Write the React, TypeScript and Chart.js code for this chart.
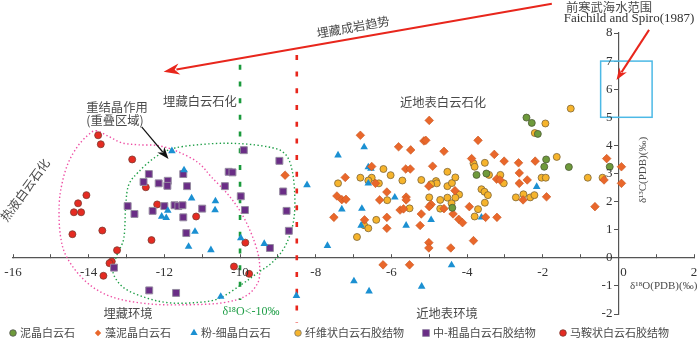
import { useEffect, useRef } from 'react';
import { Chart, registerables } from 'chart.js';

Chart.register(...registerables);

// ---------- data (δ18O, δ13C) ----------
const micrite: [number, number][] = [
  [-2.43, 4.99], [-2.29, 4.8], [-2.13, 4.41], [-1.91, 3.5], [-1.96, 3.24], [-1.31, 3.23],
  [-3.75, 2.95], [-3.49, 3.0], [-0.23, 3.24], [-4.39, 1.78],
];

const algalMicrite: [number, number][] = [
  [-8.81, 2.94], [-6.82, 4.36], [-5.81, 3.95], [-5.49, 3.84], [-5.14, 4.16], [-5.09, 4.18],
  [-6.52, 3.25], [-5.62, 3.16], [-5.5, 3.16], [-7.22, 2.86], [-6.42, 2.65], [-6.12, 2.34],
  [-7.44, 2.2], [-7.31, 2.07], [-7.2, 2.08], [-5.61, 2.16], [-5.61, 2.06], [-6.31, 2.06],
  [-7.52, 1.44], [-6.71, 1.35], [-6.12, 1.44], [-5.77, 1.7], [-5.68, 1.74], [-6.12, 1.05],
  [-5.24, 1.15], [-6.22, -0.25], [-5.52, -0.25], [-5.0, 4.89], [-3.71, 4.18], [-4.61, 3.79],
  [-3.28, 3.68], [-3.88, 3.53], [-3.02, 3.44], [-2.64, 3.38], [-2.2, 3.44], [-4.91, 3.26],
  [-3.22, 2.8], [-3.13, 2.77], [-2.62, 3.02], [-2.41, 2.77], [-2.62, 2.65], [-0.38, 2.77],
  [-0.31, 3.53], [0.08, 3.24], [0.08, 2.65], [-0.62, 1.82], [-1.9, 2.17], [-2.52, 2.06],
  [-5.01, 2.55], [-4.32, 2.39], [-4.95, 1.9], [-5.0, 1.82], [-4.61, 1.75], [-5.21, 1.56],
  [-4.37, 1.56], [-4.22, 1.37], [-4.12, 1.25], [-5.01, 0.54], [-5.01, 0.35], [-4.43, 0.35],
  [-3.83, 0.61], [-3.94, 1.82], [-3.51, 1.44], [-3.21, 1.44],
];

const fineCrystal: [number, number][] = [
  [-11.8, 3.8], [-11.48, 3.12], [-11.28, 2.12], [-10.65, 2.02], [-10.66, 1.7], [-11.91, 1.68],
  [-12.07, 1.47], [-11.95, 1.42], [-11.19, 0.93], [-11.36, 0.4], [-10.77, 0.28], [-9.98, 0.7],
  [-9.36, 0.5], [-8.23, 2.59], [-7.41, 3.65], [-7.69, 0.43], [-7.31, 1.73], [-6.72, 3.94],
  [-6.61, 3.23], [-6.54, 3.18], [-6.61, 2.65], [-5.91, 2.15], [-6.78, 1.75], [-6.8, 1.15],
  [-5.61, 1.15], [-4.95, 1.35], [-3.62, 1.44], [-2.16, 2.53], [-4.41, -0.26], [-6.99, -0.83],
  [-6.59, -1.19], [-10.51, -1.38], [-8.51, -1.35], [-5.2, -1.02],
];

const fibrousCement: [number, number][] = [
  [-6.21, 3.16], [-6.82, 2.85], [-6.52, 2.85], [-6.61, 2.75], [-6.02, 2.94], [-5.71, 2.75],
  [-7.41, 2.65], [-6.33, 2.65], [-6.11, 2.05], [-5.52, 1.76], [-6.4, 1.35], [-6.72, 1.16],
  [-6.61, 1.05], [-6.91, 0.74], [-1.93, 4.78], [-2.21, 4.44], [-1.26, 5.31], [-1.63, 3.59],
  [-3.53, 3.38], [-3.83, 3.36], [-3.8, 3.24], [-4.52, 3.06], [-3.42, 2.95], [-3.12, 2.95],
  [-3.03, 2.65], [-2.03, 2.85], [-1.92, 2.85], [-0.81, 2.85], [-0.42, 2.85], [-2.71, 2.15],
  [-2.51, 2.26], [-2.33, 2.15], [-2.22, 2.23], [-5.21, 2.77], [-4.82, 2.73], [-4.8, 2.65],
  [-4.95, 2.62], [-4.52, 2.55], [-4.4, 2.66], [-4.31, 2.86], [-4.21, 2.25], [-4.31, 2.14],
  [-4.52, 2.14], [-5.0, 2.15], [-4.71, 2.06], [-4.41, 1.94], [-4.71, 1.75], [-3.71, 1.73],
  [-3.8, 1.47], [-3.62, 2.44], [-3.54, 2.35], [-3.45, 2.23], [-3.53, 1.96],
];

const coarseCement: [number, number][] = [
  [-9.9, 3.83], [-8.96, 3.45], [-12.41, 2.98], [-12.55, 2.7], [-12.15, 2.65], [-11.91, 2.74],
  [-11.92, 2.56], [-11.5, 2.98], [-11.4, 2.55], [-10.3, 3.06], [-10.2, 3.04], [-10.4, 2.55],
  [-9.98, 2.19], [-9.87, 1.7], [-8.86, 2.36], [-8.77, 1.67], [-8.71, 0.96], [-9.21, 0.35],
  [-12.97, 1.84], [-12.79, 1.56], [-12.31, 1.67], [-12.0, 1.84], [-11.73, 1.87], [-11.63, 1.84],
  [-11.52, 1.87], [-11.0, 1.75], [-11.5, 1.44], [-11.42, 0.88], [-13.33, -0.35], [-12.4, -1.16],
  [-11.69, -1.25],
];

const saddleCement: [number, number][] = [
  [-13.75, 4.36], [-13.68, 4.04], [-12.85, 3.5], [-14.06, 2.23], [-14.28, 1.94], [-14.39, 1.62],
  [-14.2, 1.62], [-14.43, 0.84], [-13.64, 0.97], [-12.49, 2.51], [-12.19, 1.9], [-11.16, 1.47],
  [-12.34, 0.63], [-13.25, 0.27], [-13.39, -0.13], [-13.45, -0.19], [-13.61, -0.64], [-9.86, 0.54],
  [-10.16, -0.31], [-9.76, -0.57],
];

const seriesNames = [
  '泥晶白云石', '藻泥晶白云石', '粉-细晶白云石', '纤维状白云石胶结物', '中-粗晶白云石胶结物', '马鞍状白云石胶结物',
];

const xTickValues = [-16, -14, -12, -10, -8, -6, -4, -2, 0, 2];
const xTickLabels = ['-16', '-14', '-12', '-10', '-8', '-6', '-4', '-2', '0', '2'];
const yTickValues = [-2, -1, 0, 1, 2, 3, 4, 5, 6, 7, 8];
const yTickLabels = ['-2', '-1', '0', '1', '2', '3', '4', '5', '6', '7', '8'];

// annotation outlines in data units
const hydrothermalOutline: [number, number][] = [
  [-13.81, 4.52], [-13.46, 4.31], [-13.12, 4.09], [-12.68, 4.02], [-12.15, 3.99], [-11.63, 3.77],
  [-11.1, 3.38], [-10.76, 2.88], [-10.31, 2.24], [-9.97, 1.6], [-9.71, 0.89], [-9.53, 0.18],
  [-9.48, -0.36], [-9.53, -0.89], [-9.84, -1.35], [-10.45, -1.6], [-11.36, -1.67], [-12.41, -1.64],
  [-13.39, -1.39], [-14.07, -0.85], [-14.57, 0.0], [-14.75, 0.82], [-14.78, 1.89], [-14.7, 2.67],
  [-14.54, 3.38], [-14.3, 3.95], [-14.04, 4.34],
];
const burialOutline: [number, number][] = [
  [-13.02, 1.89], [-12.94, 2.6], [-12.68, 3.06], [-12.23, 3.59], [-11.71, 3.91], [-10.76, 4.06],
  [-9.97, 4.06], [-9.27, 3.95], [-8.87, 3.77], [-8.66, 3.31], [-8.56, 2.42], [-8.58, 1.35],
  [-8.79, 0.46], [-9.13, -0.14], [-9.53, -0.53], [-9.97, -0.96], [-10.58, -1.46], [-11.23, -1.6],
  [-11.89, -1.6], [-12.49, -1.42], [-13.07, -1.07], [-13.36, -0.5], [-13.25, 0.11], [-13.07, 0.71],
];

const COLORS = {
  green: '#6e9a3b',
  orange: '#e9672b',
  blue: '#1b90d2',
  yellow: '#f6b42c',
  purple: '#6a2d86',
  red: '#e52b22',
};

const CJK = '"Noto Sans CJK SC", sans-serif';
const SERIF = '"Liberation Serif", "DejaVu Serif", serif';
const TEXT_COLOR = '#4a4a4a';

function closedSpline(ctx: CanvasRenderingContext2D, pts: number[][]) {
  const n = pts.length;
  ctx.beginPath();
  ctx.moveTo(pts[0][0], pts[0][1]);
  for (let i = 0; i < n; i++) {
    const p0 = pts[(i - 1 + n) % n];
    const p1 = pts[i];
    const p2 = pts[(i + 1) % n];
    const p3 = pts[(i + 2) % n];
    ctx.bezierCurveTo(
      p1[0] + (p2[0] - p0[0]) / 6, p1[1] + (p2[1] - p0[1]) / 6,
      p2[0] - (p3[0] - p1[0]) / 6, p2[1] - (p3[1] - p1[1]) / 6,
      p2[0], p2[1],
    );
  }
  ctx.closePath();
  ctx.stroke();
}

function arrow(ctx: CanvasRenderingContext2D, x1: number, y1: number, x2: number, y2: number,
  color: string, lw: number, headLen: number, headW: number) {
  const ang = Math.atan2(y2 - y1, x2 - x1);
  const bx = x2 - Math.cos(ang) * headLen;
  const by = y2 - Math.sin(ang) * headLen;
  ctx.save();
  ctx.strokeStyle = color;
  ctx.fillStyle = color;
  ctx.lineWidth = lw;
  ctx.setLineDash([]);
  ctx.beginPath();
  ctx.moveTo(x1, y1);
  ctx.lineTo(bx + Math.cos(ang) * 2, by + Math.sin(ang) * 2);
  ctx.stroke();
  const nx = -Math.sin(ang);
  const ny = Math.cos(ang);
  const ix = x2 - Math.cos(ang) * headLen * 0.75;
  const iy = y2 - Math.sin(ang) * headLen * 0.75;
  ctx.beginPath();
  ctx.moveTo(x2, y2);
  ctx.lineTo(bx + nx * headW / 2 - Math.cos(ang) * 1, by + ny * headW / 2 - Math.sin(ang) * 1);
  ctx.lineTo(ix, iy);
  ctx.lineTo(bx - nx * headW / 2 - Math.cos(ang) * 1, by - ny * headW / 2 - Math.sin(ang) * 1);
  ctx.closePath();
  ctx.fill();
  ctx.restore();
}

function text(ctx: CanvasRenderingContext2D, s: string, x: number, y: number, font: string,
  color: string, align: CanvasTextAlign = 'center', rot = 0) {
  ctx.save();
  ctx.font = font;
  ctx.fillStyle = color;
  ctx.textAlign = align;
  ctx.textBaseline = 'middle';
  ctx.translate(x, y);
  if (rot) ctx.rotate((rot * Math.PI) / 180);
  ctx.fillText(s, 0, 0);
  ctx.restore();
}

function marker(ctx: CanvasRenderingContext2D, kind: string, x: number, y: number, r: number,
  fill: string, stroke: string | null) {
  ctx.save();
  ctx.beginPath();
  if (kind === 'circle') {
    ctx.arc(x, y, r, 0, Math.PI * 2);
  } else if (kind === 'diamond') {
    ctx.moveTo(x, y - r); ctx.lineTo(x + r, y); ctx.lineTo(x, y + r); ctx.lineTo(x - r, y);
    ctx.closePath();
  } else if (kind === 'triangle') {
    ctx.moveTo(x, y - r); ctx.lineTo(x + r * 0.866, y + r * 0.5); ctx.lineTo(x - r * 0.866, y + r * 0.5);
    ctx.closePath();
  } else {
    ctx.rect(x - r, y - r, 2 * r, 2 * r);
  }
  ctx.fillStyle = fill;
  ctx.fill();
  if (stroke) { ctx.strokeStyle = stroke; ctx.lineWidth = 0.8; ctx.stroke(); }
  ctx.restore();
}

const underlayPlugin = {
  id: 'underlay',
  beforeDatasetsDraw(chart: any) {
    const ctx: CanvasRenderingContext2D = chart.ctx;
    const xs = chart.scales.x;
    const ys = chart.scales.y;
    const P = (p: number[]) => [xs.getPixelForValue(p[0]), ys.getPixelForValue(p[1])];
    ctx.save();
    // dotted outlines
    ctx.lineWidth = 1.4;
    ctx.setLineDash([1.4, 2.4]);
    ctx.strokeStyle = '#ee4fa4';
    closedSpline(ctx, hydrothermalOutline.map(P));
    ctx.strokeStyle = '#1f9e47';
    closedSpline(ctx, burialOutline.map(P));
    // vertical dashed boundaries
    ctx.lineWidth = 2.6;
    ctx.setLineDash([5, 11.7]);
    ctx.strokeStyle = '#1a9a3c';
    ctx.beginPath();
    ctx.moveTo(xs.getPixelForValue(-10), ys.getPixelForValue(6.87));
    ctx.lineTo(xs.getPixelForValue(-10), ys.getPixelForValue(-1.5));
    ctx.stroke();
    ctx.strokeStyle = '#e8261c';
    ctx.beginPath();
    ctx.moveTo(xs.getPixelForValue(-8.5), ys.getPixelForValue(7.22));
    ctx.lineTo(xs.getPixelForValue(-8.5), ys.getPixelForValue(-2.3));
    ctx.stroke();
    // Precambrian seawater box
    ctx.setLineDash([]);
    ctx.lineWidth = 1.5;
    ctx.strokeStyle = '#4cb9e6';
    const a = P([-0.47, 7]);
    const b = P([0.89, 5]);
    ctx.strokeRect(a[0], a[1], b[0] - a[0], b[1] - a[1]);
    ctx.restore();
  },
  afterDraw(chart: any) {
    const ctx: CanvasRenderingContext2D = chart.ctx;
    const xs = chart.scales.x;
    const ys = chart.scales.y;
    const P = (p: number[]) => [xs.getPixelForValue(p[0]), ys.getPixelForValue(p[1])];
    const x0 = xs.getPixelForValue(0);
    const y0 = ys.getPixelForValue(0);

    // tick labels
    xTickValues.forEach((v, i) => {
      text(ctx, xTickLabels[i], xs.getPixelForValue(v) + (v === 0 ? 5 : 0), y0 + 14.5, `13px ${SERIF}`, '#333');
    });
    yTickValues.forEach((v, i) => {
      text(ctx, yTickLabels[i], x0 - 6, ys.getPixelForValue(v), `13px ${SERIF}`, '#333', 'right');
    });
    // axis titles
    text(ctx, 'δ¹³C(PDB)(‰)', 643, 170, `11px ${SERIF}`, TEXT_COLOR, 'center', -90);
    text(ctx, 'δ¹⁸O(PDB)(‰)', 630, 286, `11px ${SERIF}`, TEXT_COLOR, 'left');

    // arrows
    const s1 = P([-1.76, 9.04]);
    const t1 = P([-12.02, 6.62]);
    arrow(ctx, s1[0], s1[1], t1[0], t1[1], '#e8261c', 2, 15, 11);
    const s2 = P([0.81, 8.11]);
    const t2 = P([-0.05, 6.33]);
    arrow(ctx, s2[0], s2[1], t2[0], t2[1], '#e8261c', 2, 11, 9);
    const s3 = P([-12.6, 4.66]);
    const t3 = P([-11.89, 3.52]);
    arrow(ctx, s3[0], s3[1], t3[0], t3[1], '#111', 1.2, 11, 9);

    // annotation texts
    const cjk = `12.3px ${CJK}`;
    text(ctx, '前寒武海水范围', 609, 7, cjk, TEXT_COLOR);
    text(ctx, 'Faichild and Spiro(1987)', 629, 19, `13px ${SERIF}`, '#333');
    text(ctx, '埋藏成岩趋势', 353, 27, cjk, TEXT_COLOR, 'center', -10);
    text(ctx, '埋藏白云石化', 200, 101, cjk, TEXT_COLOR);
    text(ctx, '近地表白云石化', 443, 102, cjk, TEXT_COLOR);
    text(ctx, '重结晶作用', 117, 107, cjk, TEXT_COLOR);
    text(ctx, '(重叠区域)', 115, 120, cjk, TEXT_COLOR);
    text(ctx, '热液白云石化', 25, 190, cjk, TEXT_COLOR, 'center', -54);
    text(ctx, '埋藏环境', 128, 313, cjk, TEXT_COLOR);
    text(ctx, 'δ¹⁸O<-10‰', 251, 312, `12px ${SERIF}`, '#1f9e47');
    text(ctx, '近地表环境', 447, 313, cjk, TEXT_COLOR);

    // legend
    const kinds = ['circle', 'diamond', 'triangle', 'circle', 'square', 'circle'];
    const fills = [COLORS.green, COLORS.orange, COLORS.blue, COLORS.yellow, COLORS.purple, COLORS.red];
    const strokes = ['#555', null, null, '#777', '#8f7f9f', '#7a3a30'];
    const sizes = [3.3, 3.2, 4.2, 3.3, 3.4, 3.3];
    const legendX = [13, 98, 194, 298, 426, 563];
    const ly = 333;
    seriesNames.forEach((name, i) => {
      marker(ctx, kinds[i], legendX[i], ly, sizes[i], fills[i], strokes[i]);
      text(ctx, name, legendX[i] + 7, ly, `11px ${CJK}`, TEXT_COLOR, 'left');
    });
  },
};

function ds(label: string, pts: [number, number][], style: string, r: number, fill: string,
  stroke: string, bw: number) {
  return {
    label,
    data: pts.map(([x, y]) => ({ x, y })),
    pointStyle: style,
    pointRadius: r,
    pointHoverRadius: r,
    backgroundColor: fill,
    borderColor: stroke,
    borderWidth: bw,
    showLine: false,
    clip: false,
  };
}

export default function App() {
  const ref = useRef<HTMLCanvasElement>(null);
  useEffect(() => {
    if (!ref.current) return;
    const chart = new Chart(ref.current, {
      type: 'scatter',
      data: {
        datasets: [
          ds(seriesNames[0], micrite, 'circle', 3.5, COLORS.green, '#4d5a35', 0.8),
          ds(seriesNames[1], algalMicrite, 'rectRot', 4.3, COLORS.orange, '#c8561f', 0.6),
          ds(seriesNames[2], fineCrystal, 'triangle', 4.4, COLORS.blue, '#1b90d2', 0),
          ds(seriesNames[3], fibrousCement, 'circle', 3.5, COLORS.yellow, '#7d6436', 0.8),
          ds(seriesNames[4], coarseCement, 'rect', 4.9, COLORS.purple, '#958aa0', 1),
          ds(seriesNames[5], saddleCement, 'circle', 3.5, COLORS.red, '#7d3a30', 0.8),
        ] as any,
      },
      options: {
        responsive: false,
        animation: false,
        events: [],
        layout: { padding: { left: 13, right: 1, top: 33, bottom: 33 } },
        plugins: { legend: { display: false }, tooltip: { enabled: false } },
        scales: {
          x: {
            type: 'linear',
            min: -16,
            max: 2,
            position: { y: 0 } as any,
            afterFit: (s: any) => { s.height = 0; },
            grid: { display: true, drawOnChartArea: false, drawTicks: true, tickLength: -4, color: '#555', lineWidth: 1 },
            border: { display: true, color: '#555', width: 1.2 },
            ticks: { display: false, stepSize: 1, autoSkip: false },
          },
          y: {
            type: 'linear',
            min: -2,
            max: 8,
            position: { x: 0 } as any,
            afterFit: (s: any) => { s.width = 0; },
            grid: { display: true, drawOnChartArea: false, drawTicks: true, tickLength: 4, color: '#555', lineWidth: 1 },
            border: { display: true, color: '#555', width: 1.2 },
            ticks: { display: false, stepSize: 1, autoSkip: false },
          },
        },
      } as any,
      plugins: [underlayPlugin],
    });
    return () => chart.destroy();
  }, []);
  return (
    <div style={{ position: 'absolute', left: 0, top: 0, width: 700, height: 347, background: '#fff' }}>
      <canvas ref={ref} width={700} height={347} style={{ display: 'block' }} />
    </div>
  );
}
